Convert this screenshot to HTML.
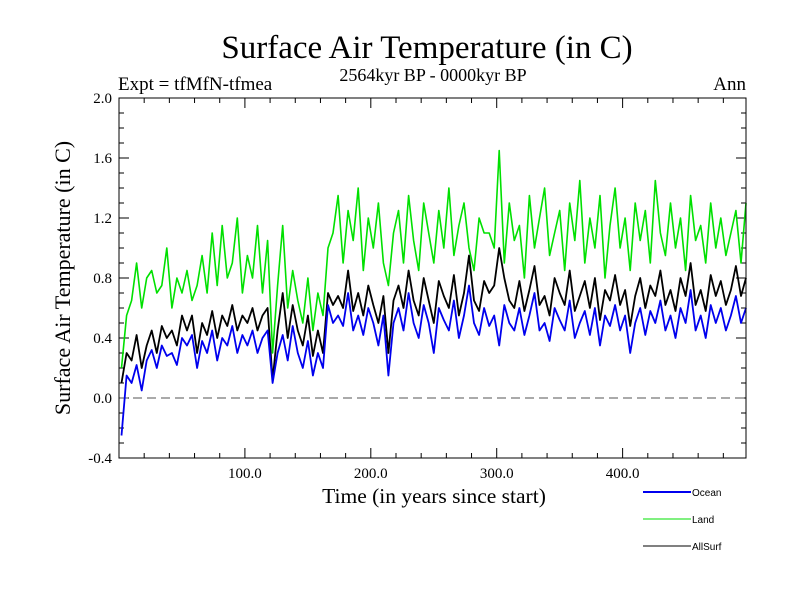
<!DOCTYPE html>
<html><head><meta charset="utf-8"><style>
html,body{margin:0;padding:0;background:#fff;}
svg{display:block;font-family:"Liberation Serif",serif;}
</style></head><body>
<svg id="c" width="800" height="600"></svg>
<script>
const startYear = 2, stepYear = 4;
const oceanValues = [-0.25,0.15,0.1,0.22,0.05,0.25,0.32,0.2,0.35,0.28,0.3,0.22,0.4,
0.35,0.42,0.2,0.38,0.3,0.45,0.25,0.4,0.35,0.48,0.3,0.42,
0.35,0.45,0.3,0.4,0.45,0.1,0.3,0.42,0.25,0.48,0.3,0.2,0.38,0.15,0.3,0.2,
0.62,0.5,0.55,0.48,0.7,0.45,0.55,0.42,0.6,0.5,0.35,0.55,0.15,0.5,0.6,0.45,0.7,0.5,0.4,0.62,0.5,0.3,0.6,0.52,0.45,0.65,0.4,0.55,0.75,0.5,0.42,0.6,0.48,0.55,0.35,0.62,0.5,0.45,0.6,0.42,0.55,0.7,0.45,0.5,0.38,0.6,0.52,0.45,0.65,0.4,0.5,0.58,0.42,0.6,0.35,0.55,0.48,0.62,0.45,0.55,0.3,0.5,0.6,0.42,0.58,0.5,0.65,0.45,0.55,0.4,0.6,0.5,0.72,0.45,0.55,0.4,0.62,0.5,0.6,0.45,0.55,0.68,0.5,0.6];
const landValues = [0.2,0.55,0.65,0.9,0.6,0.8,0.85,0.7,0.75,1.0,0.6,0.8,0.7,
0.85,0.65,0.75,0.95,0.7,1.1,0.75,1.15,0.8,0.9,1.2,0.7,
0.95,0.8,1.15,0.7,1.05,0.3,0.75,1.15,0.6,0.85,0.65,0.5,0.8,0.45,0.7,0.55,
1.0,1.1,1.35,0.9,1.25,1.05,1.4,0.85,1.2,1.0,1.3,0.9,0.75,1.1,1.25,0.9,1.35,1.05,0.85,1.3,1.1,0.9,1.25,1.0,1.4,0.95,1.15,1.3,1.0,0.85,1.2,1.1,1.1,1.0,1.65,0.9,1.3,1.05,1.15,0.8,1.35,1.0,1.2,1.4,0.95,1.1,1.25,0.85,1.3,1.05,1.45,0.9,1.2,1.0,1.35,0.8,1.15,1.4,1.0,1.2,0.85,1.3,1.05,1.25,0.9,1.45,1.1,0.95,1.3,1.0,1.2,0.85,1.35,1.05,1.15,0.9,1.3,1.0,1.2,0.95,1.1,1.25,0.9,1.3];
const allSurfValues = [0.1,0.3,0.25,0.42,0.2,0.35,0.45,0.3,0.48,0.4,0.45,0.35,0.55,
0.45,0.55,0.3,0.5,0.42,0.58,0.4,0.55,0.48,0.62,0.45,0.55,
0.5,0.6,0.45,0.55,0.6,0.12,0.45,0.7,0.4,0.62,0.45,0.35,0.55,0.28,0.45,0.3,
0.7,0.62,0.68,0.6,0.85,0.58,0.7,0.55,0.75,0.62,0.5,0.68,0.3,0.65,0.75,0.6,0.85,0.65,0.55,0.8,0.65,0.5,0.78,0.68,0.6,0.82,0.55,0.7,0.95,0.65,0.58,0.78,0.7,0.75,1.0,0.8,0.65,0.6,0.78,0.58,0.72,0.88,0.62,0.68,0.55,0.8,0.7,0.62,0.85,0.58,0.68,0.78,0.6,0.8,0.52,0.72,0.65,0.82,0.62,0.72,0.48,0.68,0.8,0.6,0.75,0.68,0.85,0.62,0.72,0.58,0.8,0.68,0.9,0.62,0.72,0.58,0.82,0.68,0.78,0.62,0.72,0.88,0.68,0.8];
const xTickValues = [100,200,300,400];
const xTickLabels = ["100.0","200.0","300.0","400.0"];
const yTickValues = [-0.4,0,0.4,0.8,1.2,1.6,2.0];
const yTickLabels = ["-0.4","0.0","0.4","0.8","1.2","1.6","2.0"];

const L=119,R=746,T=98,B=458;
const X0=0,X1=498,Y0=-0.4,Y1=2.0;
function xs(v){return L+(v-X0)/(X1-X0)*(R-L);}
function ys(v){return B-(v-Y0)/(Y1-Y0)*(B-T);}
const svg=document.getElementById('c');
const NS='http://www.w3.org/2000/svg';
function mk(tag,attrs,parent){const e=document.createElementNS(NS,tag);for(const k in attrs)e.setAttribute(k,attrs[k]);(parent||svg).appendChild(e);return e;}
function txt(s,attrs){const e=mk('text',attrs);e.textContent=s;return e;}

let t;
t=txt('Surface Air Temperature (in C)',{x:427,y:58,'font-size':33,'text-anchor':'middle'});


t=txt('2564kyr BP - 0000kyr BP',{x:433,y:81,'font-size':18,'text-anchor':'middle'});


t=txt('Expt = tfMfN-tfmea',{x:118,y:90,'font-size':19});


t=txt('Ann',{x:746,y:90,'font-size':19,'text-anchor':'end'});


t=txt('Surface Air Temperature (in C)',{x:0,y:0,'font-size':22,'text-anchor':'middle',transform:'translate(70,278) rotate(-90)'});


t=txt('Time (in years since start)',{x:434,y:503,'font-size':21.5,'text-anchor':'middle'});



const tg=mk('g',{stroke:'#000','stroke-width':1});


for(let v=20;v<X1;v+=20){const major=v%100===0;const len=major?10:5;
 mk('line',{x1:xs(v),x2:xs(v),y1:B,y2:B-len},tg);mk('line',{x1:xs(v),x2:xs(v),y1:T,y2:T+len},tg);}
for(let k=-3;k<=19;k++){const v=k/10;const major=(k%4===0);const len=major?10:5;
 mk('line',{x1:L,x2:L+len,y1:ys(v),y2:ys(v)},tg);mk('line',{x1:R,x2:R-len,y1:ys(v),y2:ys(v)},tg);}
xTickValues.forEach((v,i)=>{const e=txt(xTickLabels[i],{x:xs(v),y:478,'font-size':15,'text-anchor':'middle'});
 
 });
yTickValues.forEach((v,i)=>{const e=txt(yTickLabels[i],{x:112,y:ys(v)+5,'font-size':15,'text-anchor':'end'});
 
 });

const z=mk('line',{x1:L,x2:R,y1:ys(0),y2:ys(0),stroke:'#555','stroke-width':1,'stroke-dasharray':'9,5'});



function series(vals,color,w,name){
 const d=vals.map((v,i)=>(i?'L':'M')+xs(startYear+stepYear*i).toFixed(1)+','+ys(v).toFixed(1)).join('');
 const p=mk('path',{d:d,fill:'none',stroke:color,'stroke-width':w,'stroke-linejoin':'round'});
 
 
}
series(landValues,'#00e000',1.6,'land-series');
series(allSurfValues,'#000',1.8,'allsurf-series');
series(oceanValues,'#0000ee',1.8,'ocean-series');

const frame=mk('rect',{x:L,y:T,width:R-L,height:B-T,fill:'none',stroke:'#000','stroke-width':1});



const legend=[['Ocean','#0000ee',2,492],['Land','#00e000',1,519],['AllSurf','#000',1,546]];
legend.forEach(l=>{
 const g=mk('g',{});
 
 
 mk('line',{x1:643,x2:691,y1:l[3],y2:l[3],stroke:l[1],'stroke-width':l[2]},g);
 const e=mk('text',{x:692,y:l[3]+4,'font-size':10,'font-family':'Liberation Sans, sans-serif'},g);
 e.textContent=l[0];
});
</script>
</body></html>
